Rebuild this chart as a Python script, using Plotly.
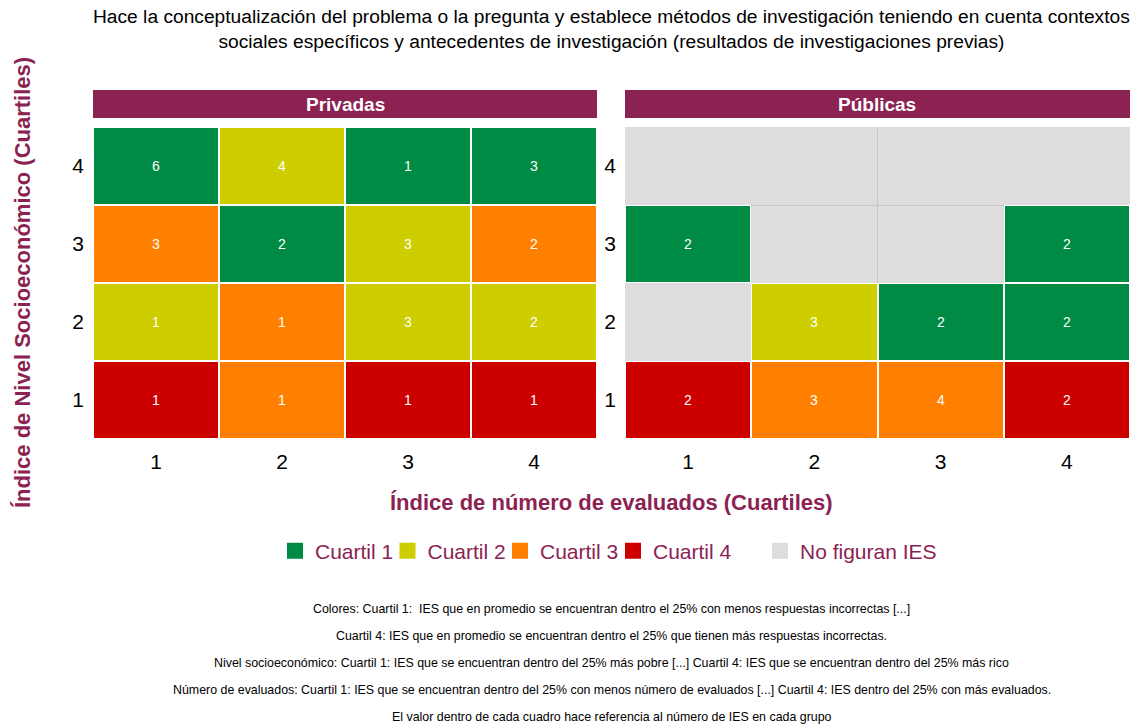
import plotly.graph_objects as go

# ---------------- data ----------------
x_cuartiles = [1, 2, 3, 4]          # Índice de número de evaluados
y_cuartiles = [1, 2, 3, 4]          # Índice de Nivel Socioeconómico
tick_labels = ["1", "2", "3", "4"]

# rows: y = 1, 2, 3, 4 ; columns: x = 1..4
priv_counts = [[1, 1, 1, 1],
               [1, 1, 3, 2],
               [3, 2, 3, 2],
               [6, 4, 1, 3]]
priv_cuartil = [[4, 3, 4, 4],
                [2, 3, 2, 2],
                [3, 1, 2, 3],
                [1, 2, 1, 1]]

pub_counts = [[2, 3, 4, 2],
              [None, 3, 2, 2],
              [2, None, None, 2],
              [None, None, None, None]]
pub_cuartil = [[4, 3, 3, 4],
               [None, 2, 1, 1],
               [1, None, None, 1],
               [None, None, None, None]]

legend_names = ["Cuartil 1", "Cuartil 2", "Cuartil 3", "Cuartil 4"]
colors = ["#008B45", "#CDCD00", "#FF7F00", "#CD0000"]
missing_name = "No figuran IES"
grey = "#DDDDDD"
maroon = "#8B2252"
panels = ["Privadas", "Públicas"]

title_lines = ["Hace la conceptualización del problema o la pregunta y establece métodos de investigación teniendo en cuenta contextos",
               "sociales específicos y antecedentes de investigación (resultados de investigaciones previas)"]
captions = [
    "Colores: Cuartil 1:  IES que en promedio se encuentran dentro el 25% con menos respuestas incorrectas [...]",
    "Cuartil 4: IES que en promedio se encuentran dentro el 25% que tienen más respuestas incorrectas.",
    "Nivel socioeconómico: Cuartil 1: IES que se encuentran dentro del 25% más pobre [...] Cuartil 4: IES que se encuentran dentro del 25% más rico",
    "Número de evaluados: Cuartil 1: IES que se encuentran dentro del 25% con menos número de evaluados [...] Cuartil 4: IES dentro del 25% con más evaluados.",
    "El valor dentro de cada cuadro hace referencia al número de IES en cada grupo",
]

FONT = "Liberation Sans, Arial, sans-serif"
W, H = 1135, 725

# ---------------- figure ----------------
fig = go.Figure()

colorscale = []
for i, c in enumerate(colors):
    colorscale.append([i / 4, c])
    colorscale.append([(i + 1) / 4, c])

datasets = [(priv_counts, priv_cuartil, "x", "y"), (pub_counts, pub_cuartil, "x2", "y2")]
for counts, cuart, xa, ya in datasets:
    white = [[1 if v is not None else None for v in row] for row in cuart]
    fig.add_trace(go.Heatmap(
        x=x_cuartiles, y=y_cuartiles, z=white,
        colorscale=[[0, "white"], [1, "white"]], showscale=False,
        hoverinfo="skip", xaxis=xa, yaxis=ya))
    text = [[("" if v is None else str(v)) for v in row] for row in counts]
    fig.add_trace(go.Heatmap(
        x=x_cuartiles, y=y_cuartiles, z=cuart, text=text,
        texttemplate="%{text}", textfont=dict(color="white", size=14, family=FONT),
        colorscale=colorscale, zmin=0.5, zmax=4.5, showscale=False,
        xgap=2, ygap=2, xaxis=xa, yaxis=ya))

# legend entries: one small legend per entry so spacing can follow the reference
legend_square_centers = [296, 408.5, 521, 634, 781]   # px, layout only
names_all = legend_names + [missing_name]
colors_all = colors + [grey]
legend_layout = {}
for i, (name, c) in enumerate(zip(names_all, colors_all)):
    key = "legend" if i == 0 else f"legend{i + 1}"
    fig.add_trace(go.Scatter(x=[None], y=[None], mode="markers", name=name,
                             marker=dict(symbol="square", size=18, color=c),
                             legend=key, xaxis="x", yaxis="y"))
    legend_layout[key] = dict(orientation="h", x=(legend_square_centers[i] - 21) / W,
                              y=1 - 551 / H, xanchor="left", yanchor="middle",
                              font=dict(size=21, color=maroon, family=FONT),
                              itemclick=False, itemdoubleclick=False,
                              bgcolor="rgba(0,0,0,0)")

# axes
y0, y1 = 1 - 439 / H, 1 - 127 / H
dom1 = [93 / W, 597 / W]
dom2 = [625 / W, 1130 / W]
axis_common = dict(range=[0.5, 4.5], tickvals=x_cuartiles, ticktext=tick_labels,
                   showgrid=False, zeroline=False, showline=False, ticks="",
                   tickfont=dict(size=21, color="black", family=FONT), fixedrange=True)
xax = dict(axis_common); xax["minor"] = dict(tickvals=[2.5], showgrid=True, gridcolor="#C8C8C8", gridwidth=1)
yax = dict(axis_common); yax["minor"] = dict(tickvals=[3.5], showgrid=True, gridcolor="#C8C8C8", gridwidth=1)

fig.update_layout(
    xaxis=dict(xax, domain=dom1, anchor="y", ticklabelstandoff=8),
    yaxis=dict(yax, domain=[y0, y1], anchor="x", ticklabelstandoff=8),
    xaxis2=dict(xax, domain=dom2, anchor="y2", ticklabelstandoff=8),
    yaxis2=dict(yax, domain=[y0, y1], anchor="x2", ticklabelstandoff=8),
)

shapes = []
annotations = []
for dom, name in zip([dom1, dom2], panels):
    shapes.append(dict(type="rect", xref="paper", yref="paper",
                       x0=dom[0], x1=dom[1], y0=1 - 118 / H, y1=1 - 90 / H,
                       fillcolor=maroon, line=dict(width=0), layer="below"))
    annotations.append(dict(text=f"<b>{name}</b>", xref="paper", yref="paper",
                            x=(dom[0] + dom[1]) / 2, y=1 - 104 / H, showarrow=False,
                            font=dict(color="white", size=19, family=FONT),
                            xanchor="center", yanchor="middle"))

cx = (93 + 1130) / 2 / W
# title
annotations.append(dict(text="<br>".join(title_lines), xref="paper", yref="paper",
                        x=cx, y=1 - 29 / H, showarrow=False, align="center",
                        font=dict(size=19.2, color="black", family=FONT),
                        xanchor="center", yanchor="middle"))
# axis titles
annotations.append(dict(text="<b>Índice de número de evaluados (Cuartiles)</b>", xref="paper", yref="paper",
                        x=cx, y=1 - 502 / H, showarrow=False,
                        font=dict(size=22, color=maroon, family=FONT),
                        xanchor="center", yanchor="middle"))
annotations.append(dict(text="<b>Índice de Nivel Socioeconómico (Cuartiles)</b>", xref="paper", yref="paper",
                        x=22 / W, y=1 - 283 / H, showarrow=False, textangle=-90,
                        font=dict(size=22, color=maroon, family=FONT),
                        xanchor="center", yanchor="middle"))
# captions
for i, cap in enumerate(captions):
    annotations.append(dict(text=cap, xref="paper", yref="paper",
                            x=cx, y=1 - (609 + 27 * i) / H, showarrow=False,
                            font=dict(size=12.4, color="black", family=FONT),
                            xanchor="center", yanchor="middle"))

fig.update_layout(
    width=W, height=H,
    margin=dict(l=0, r=0, t=0, b=0),
    paper_bgcolor="white", plot_bgcolor=grey,
    font=dict(family=FONT),
    shapes=shapes, annotations=annotations,
    showlegend=True,
    **legend_layout,
)

fig.write_html("out.html", config={"displayModeBar": False},
               post_script="document.body.style.margin='0';document.body.style.padding='0';")
